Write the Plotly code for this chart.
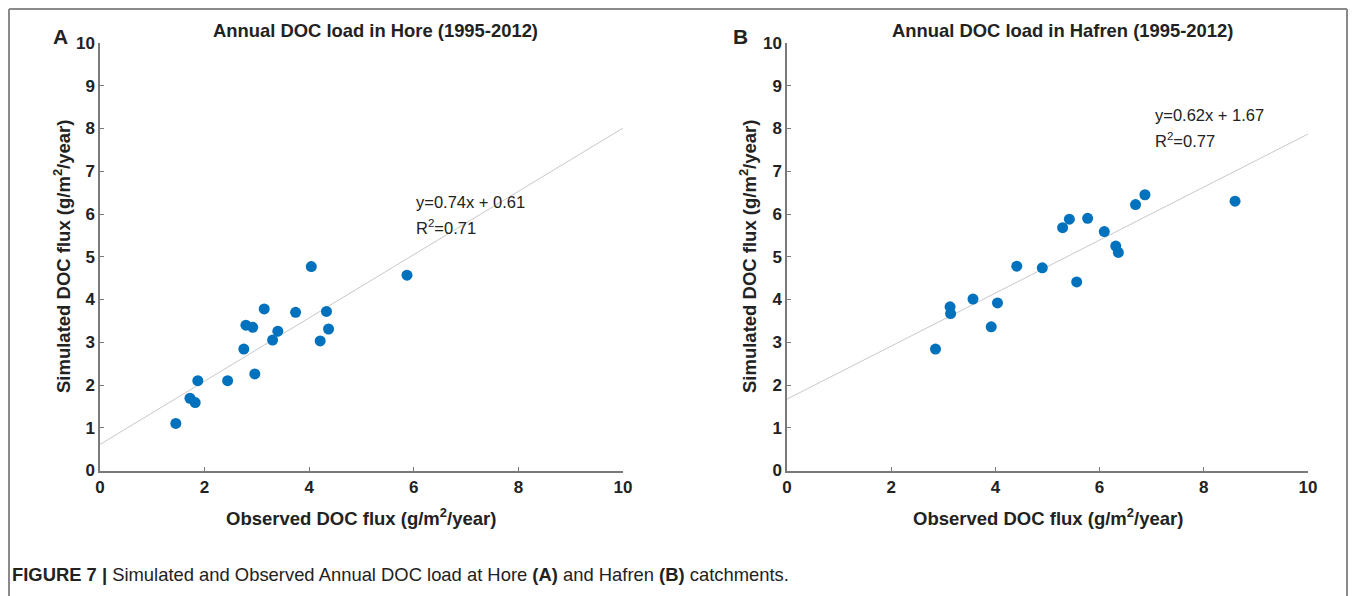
import plotly.graph_objects as go

W, H = 1357, 596
OFF = 8  # page body margin offset in the screenshot

# Panel A: Hore
hore_obs = [1.45, 1.72, 1.82, 1.87, 2.44, 2.96, 2.75, 2.79, 2.92, 3.14, 3.30, 3.40, 3.74, 4.04, 4.21, 4.33, 4.37, 5.87]
hore_sim = [1.10, 1.69, 1.59, 2.10, 2.10, 2.26, 2.84, 3.40, 3.35, 3.78, 3.05, 3.26, 3.70, 4.77, 3.03, 3.72, 3.31, 4.57]
hore_slope, hore_intercept, hore_r2 = 0.74, 0.61, 0.71

# Panel B: Hafren
hafren_obs = [2.85, 3.13, 3.14, 3.57, 3.92, 4.04, 4.41, 4.90, 5.29, 5.42, 5.56, 5.77, 6.09, 6.31, 6.36, 6.69, 6.87, 8.60]
hafren_sim = [2.84, 3.83, 3.67, 4.01, 3.36, 3.92, 4.78, 4.74, 5.68, 5.88, 4.41, 5.90, 5.59, 5.25, 5.10, 6.22, 6.45, 6.30]
hafren_slope, hafren_intercept, hafren_r2 = 0.62, 1.67, 0.77

fit_x = [0, 10]
titles = ["Annual DOC load in Hore (1995-2012)", "Annual DOC load in Hafren (1995-2012)"]
letters = ["A", "B"]
x_ticks = [0, 2, 4, 6, 8, 10]
y_ticks = [0, 1, 2, 3, 4, 5, 6, 7, 8, 9, 10]

FONT = "Liberation Sans, Arial, sans-serif"
TXT = "#222222"
BLUE = "#0072BD"
AXC = "#7a7a7a"

def px(xp):
    return (xp - OFF) / W

def py(yp):
    return 1 - (yp - OFF) / H

fig = go.Figure()

panels = [
    dict(obs=hore_obs, sim=hore_sim, m=hore_slope, b=hore_intercept, r2=hore_r2,
         xd=[px(100), px(623)], xa="x", ya="y", xname="xaxis", yname="yaxis",
         title_x=375, letter_x=60, xtitle_x=361, ytitle_x=62, eq_x=414, eq_y=202),
    dict(obs=hafren_obs, sim=hafren_sim, m=hafren_slope, b=hafren_intercept, r2=hafren_r2,
         xd=[px(787), px(1308)], xa="x2", ya="y2", xname="xaxis2", yname="yaxis2",
         title_x=1062, letter_x=740, xtitle_x=1048, ytitle_x=748, eq_x=1153, eq_y=115),
]

ydom = [py(470.5), py(43)]

for i, p in enumerate(panels):
    fit_y = [p["m"] * v + p["b"] for v in fit_x]
    fig.add_trace(go.Scatter(x=fit_x, y=fit_y, mode="lines", xaxis=p["xa"], yaxis=p["ya"],
                             line=dict(color="#c8c8c8", width=1), showlegend=False, hoverinfo="skip"))
    fig.add_trace(go.Scatter(x=p["obs"], y=p["sim"], mode="markers", xaxis=p["xa"], yaxis=p["ya"],
                             marker=dict(color=BLUE, size=11, line=dict(width=0)), showlegend=False))
    common = dict(showline=True, linecolor=AXC, linewidth=1.5, ticks="inside", ticklen=4,
                  tickcolor=AXC, tickwidth=1, showgrid=False, zeroline=False,
                  tickfont=dict(family=FONT, size=17, color=TXT, weight="bold"),
                  mirror=False, fixedrange=True, automargin=False)
    fig.layout[p["xname"]] = dict(domain=p["xd"], range=[0, 10], tickvals=x_ticks,
                                 anchor=p["ya"], **common)
    fig.layout[p["yname"]] = dict(domain=ydom, range=[0, 10], tickvals=y_ticks,
                                 anchor=p["xa"], **common)
    fig.add_annotation(text=titles[i], x=px(p["title_x"]), y=py(30), xref="paper", yref="paper",
                       showarrow=False, xanchor="center", yanchor="middle",
                       font=dict(family=FONT, size=18.4, color=TXT, weight="bold"))
    fig.add_annotation(text=letters[i], x=px(p["letter_x"]), y=py(37), xref="paper", yref="paper",
                       showarrow=False, xanchor="center", yanchor="middle",
                       font=dict(family=FONT, size=21, color=TXT, weight="bold"))
    fig.add_annotation(text="Observed DOC flux (g/m<sup>2</sup>/year)", x=px(p["xtitle_x"]), y=py(517),
                       xref="paper", yref="paper", showarrow=False, xanchor="center", yanchor="middle",
                       font=dict(family=FONT, size=18.5, color=TXT, weight="bold"))
    fig.add_annotation(text="Simulated DOC flux (g/m<sup>2</sup>/year)", x=px(p["ytitle_x"]), y=py(257),
                       xref="paper", yref="paper", showarrow=False, xanchor="center", yanchor="middle",
                       textangle=-90,
                       font=dict(family=FONT, size=18.5, color=TXT, weight="bold"))
    fig.add_annotation(text=f"y={p['m']:.2f}x + {p['b']:.2f}", x=px(p["eq_x"]), y=py(p["eq_y"]),
                       xref="paper", yref="paper", showarrow=False, xanchor="left", yanchor="middle",
                       font=dict(family=FONT, size=16.5, color=TXT))
    fig.add_annotation(text=f"R<sup>2</sup>=0.{int(round(p['r2']*100)):02d}", x=px(p["eq_x"]), y=py(p["eq_y"] + 25),
                       xref="paper", yref="paper", showarrow=False, xanchor="left", yanchor="middle",
                       font=dict(family=FONT, size=16.5, color=TXT))

fig.add_annotation(text="<b>FIGURE 7 |</b> Simulated and Observed Annual DOC load at Hore <b>(A)</b> and Hafren <b>(B)</b> catchments.",
                   x=px(10), y=py(574), xref="paper", yref="paper", showarrow=False,
                   xanchor="left", yanchor="middle",
                   font=dict(family=FONT, size=18.4, color=TXT))

frame = dict(type="line", xref="paper", yref="paper", line=dict(color="#8a8a8a", width=2))
fig.add_shape(x0=px(9), x1=px(9), y0=py(9), y1=py(610), **frame)
fig.add_shape(x0=px(9), x1=px(1347), y0=py(9), y1=py(9), **frame)
fig.add_shape(x0=px(1347), x1=px(1347), y0=py(9), y1=py(610), **frame)

fig.update_layout(width=W, height=H, margin=dict(l=0, r=0, t=0, b=0, pad=0, autoexpand=False),
                  paper_bgcolor="white", plot_bgcolor="white", showlegend=False,
                  font=dict(family=FONT, color=TXT))

fig.write_html("out.html")
